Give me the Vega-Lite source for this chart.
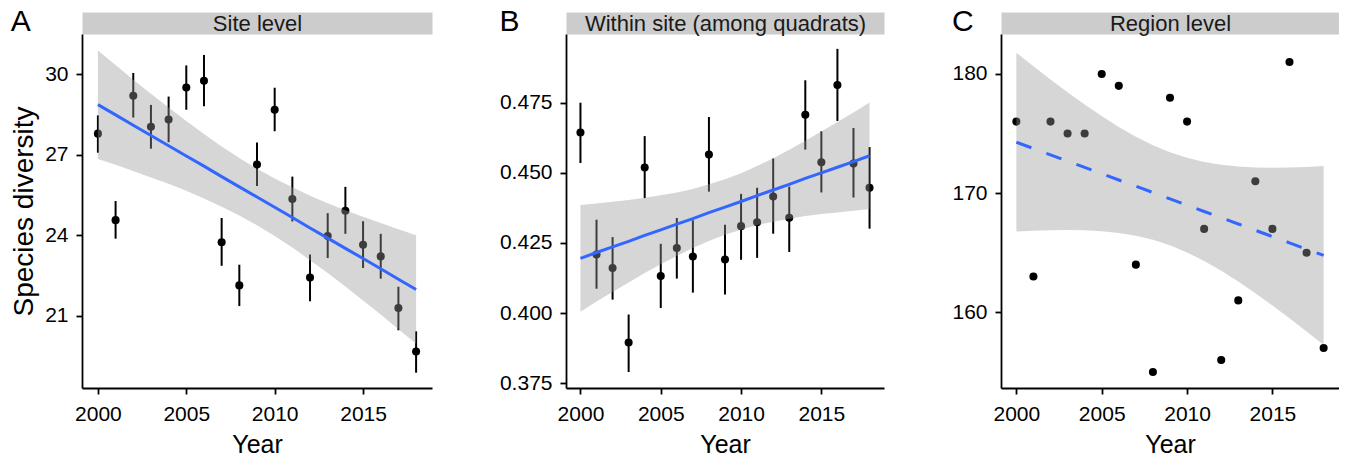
{
  "$schema": "https://vega.github.io/schema/vega-lite/v6.json",
  "padding": {"left": 10, "top": 7, "right": 0, "bottom": 0},
  "background": "white",
  "config": {
    "view": {"stroke": null},
    "font": "Liberation Sans",
    "axis": {
      "grid": false,
      "domainColor": "black",
      "domainWidth": 1.8,
      "tickColor": "black",
      "tickWidth": 1.8,
      "tickSize": 6,
      "labelFont": "Liberation Sans",
      "labelFontSize": 21,
      "labelColor": "black",
      "titleFont": "Liberation Sans",
      "titleFontSize": 25,
      "titleFontWeight": "normal",
      "titleColor": "black"
    },
    "axisX": {"labelPadding": 9, "titlePadding": 8, "labelFlush": false},
    "axisY": {"labelPadding": 8, "titlePadding": 7},
    "title": {"font": "Liberation Sans", "fontSize": 30, "fontWeight": "normal", "color": "black", "anchor": "start", "frame": "bounds", "baseline": "top", "offset": 0, "dy": 29}
  },
  "datasets": {
    "siteA": [
      {"year": 2000, "value": 27.78, "lo": 27.07, "hi": 28.46},
      {"year": 2001, "value": 24.56, "lo": 23.87, "hi": 25.27},
      {"year": 2002, "value": 29.19, "lo": 28.38, "hi": 30.04},
      {"year": 2003, "value": 28.04, "lo": 27.22, "hi": 28.85},
      {"year": 2004, "value": 28.31, "lo": 27.46, "hi": 29.16},
      {"year": 2005, "value": 29.50, "lo": 28.67, "hi": 30.32},
      {"year": 2006, "value": 29.75, "lo": 28.80, "hi": 30.71},
      {"year": 2007, "value": 23.74, "lo": 22.86, "hi": 24.64},
      {"year": 2008, "value": 22.13, "lo": 21.36, "hi": 22.90},
      {"year": 2009, "value": 26.63, "lo": 25.83, "hi": 27.45},
      {"year": 2010, "value": 28.67, "lo": 27.87, "hi": 29.49},
      {"year": 2011, "value": 25.35, "lo": 24.51, "hi": 26.18},
      {"year": 2012, "value": 22.42, "lo": 21.54, "hi": 23.28},
      {"year": 2013, "value": 23.97, "lo": 23.15, "hi": 24.82},
      {"year": 2014, "value": 24.91, "lo": 24.05, "hi": 25.80},
      {"year": 2015, "value": 23.64, "lo": 22.78, "hi": 24.52},
      {"year": 2016, "value": 23.21, "lo": 22.38, "hi": 24.05},
      {"year": 2017, "value": 21.29, "lo": 20.46, "hi": 22.08},
      {"year": 2018, "value": 19.67, "lo": 18.88, "hi": 20.42}
    ],
    "fitA": [
      {"year": 2000, "fit": 28.86, "lo": 26.84, "hi": 30.88},
      {"year": 2001, "fit": 28.48, "lo": 26.62, "hi": 30.34},
      {"year": 2002, "fit": 28.09, "lo": 26.39, "hi": 29.79},
      {"year": 2003, "fit": 27.71, "lo": 26.15, "hi": 29.27},
      {"year": 2004, "fit": 27.33, "lo": 25.91, "hi": 28.75},
      {"year": 2005, "fit": 26.95, "lo": 25.65, "hi": 28.25},
      {"year": 2006, "fit": 26.57, "lo": 25.37, "hi": 27.77},
      {"year": 2007, "fit": 26.18, "lo": 25.06, "hi": 27.30},
      {"year": 2008, "fit": 25.80, "lo": 24.73, "hi": 26.87},
      {"year": 2009, "fit": 25.42, "lo": 24.37, "hi": 26.47},
      {"year": 2010, "fit": 25.04, "lo": 23.97, "hi": 26.11},
      {"year": 2011, "fit": 24.66, "lo": 23.54, "hi": 25.78},
      {"year": 2012, "fit": 24.27, "lo": 23.07, "hi": 25.47},
      {"year": 2013, "fit": 23.89, "lo": 22.59, "hi": 25.19},
      {"year": 2014, "fit": 23.51, "lo": 22.09, "hi": 24.93},
      {"year": 2015, "fit": 23.13, "lo": 21.57, "hi": 24.69},
      {"year": 2016, "fit": 22.75, "lo": 21.05, "hi": 24.45},
      {"year": 2017, "fit": 22.36, "lo": 20.50, "hi": 24.22},
      {"year": 2018, "fit": 21.98, "lo": 19.96, "hi": 24.00}
    ],
    "siteB": [
      {"year": 2000, "value": 0.4644, "lo": 0.4535, "hi": 0.4750},
      {"year": 2001, "value": 0.4209, "lo": 0.4087, "hi": 0.4333},
      {"year": 2002, "value": 0.4161, "lo": 0.4048, "hi": 0.4271},
      {"year": 2003, "value": 0.3895, "lo": 0.3790, "hi": 0.3995},
      {"year": 2004, "value": 0.4519, "lo": 0.4410, "hi": 0.4631},
      {"year": 2005, "value": 0.4132, "lo": 0.4018, "hi": 0.4247},
      {"year": 2006, "value": 0.4232, "lo": 0.4123, "hi": 0.4339},
      {"year": 2007, "value": 0.4202, "lo": 0.4073, "hi": 0.4331},
      {"year": 2008, "value": 0.4565, "lo": 0.4433, "hi": 0.4699},
      {"year": 2009, "value": 0.4191, "lo": 0.4066, "hi": 0.4315},
      {"year": 2010, "value": 0.4310, "lo": 0.4190, "hi": 0.4425},
      {"year": 2011, "value": 0.4324, "lo": 0.4197, "hi": 0.4447},
      {"year": 2012, "value": 0.4416, "lo": 0.4283, "hi": 0.4551},
      {"year": 2013, "value": 0.4340, "lo": 0.4218, "hi": 0.4451},
      {"year": 2014, "value": 0.4707, "lo": 0.4583, "hi": 0.4830},
      {"year": 2015, "value": 0.4538, "lo": 0.4430, "hi": 0.4648},
      {"year": 2016, "value": 0.4813, "lo": 0.4685, "hi": 0.4942},
      {"year": 2017, "value": 0.4533, "lo": 0.4412, "hi": 0.4660},
      {"year": 2018, "value": 0.4447, "lo": 0.4301, "hi": 0.4592}
    ],
    "fitB": [
      {"year": 2000, "fit": 0.4195, "lo": 0.4005, "hi": 0.4385},
      {"year": 2001, "fit": 0.4216, "lo": 0.4041, "hi": 0.4391},
      {"year": 2002, "fit": 0.4236, "lo": 0.4075, "hi": 0.4397},
      {"year": 2003, "fit": 0.4256, "lo": 0.4109, "hi": 0.4403},
      {"year": 2004, "fit": 0.4277, "lo": 0.4143, "hi": 0.4411},
      {"year": 2005, "fit": 0.4297, "lo": 0.4174, "hi": 0.4420},
      {"year": 2006, "fit": 0.4317, "lo": 0.4204, "hi": 0.4430},
      {"year": 2007, "fit": 0.4337, "lo": 0.4232, "hi": 0.4442},
      {"year": 2008, "fit": 0.4358, "lo": 0.4257, "hi": 0.4459},
      {"year": 2009, "fit": 0.4378, "lo": 0.4279, "hi": 0.4477},
      {"year": 2010, "fit": 0.4398, "lo": 0.4297, "hi": 0.4499},
      {"year": 2011, "fit": 0.4419, "lo": 0.4314, "hi": 0.4524},
      {"year": 2012, "fit": 0.4439, "lo": 0.4326, "hi": 0.4552},
      {"year": 2013, "fit": 0.4459, "lo": 0.4336, "hi": 0.4582},
      {"year": 2014, "fit": 0.4480, "lo": 0.4346, "hi": 0.4614},
      {"year": 2015, "fit": 0.4500, "lo": 0.4353, "hi": 0.4647},
      {"year": 2016, "fit": 0.4520, "lo": 0.4359, "hi": 0.4681},
      {"year": 2017, "fit": 0.4540, "lo": 0.4365, "hi": 0.4715},
      {"year": 2018, "fit": 0.4561, "lo": 0.4371, "hi": 0.4751}
    ],
    "regionC": [
      {"year": 2000, "value": 176},
      {"year": 2001, "value": 163},
      {"year": 2002, "value": 176},
      {"year": 2003, "value": 175},
      {"year": 2004, "value": 175},
      {"year": 2005, "value": 180},
      {"year": 2006, "value": 179},
      {"year": 2007, "value": 164},
      {"year": 2008, "value": 155},
      {"year": 2009, "value": 178},
      {"year": 2010, "value": 176},
      {"year": 2011, "value": 167},
      {"year": 2012, "value": 156},
      {"year": 2013, "value": 161},
      {"year": 2014, "value": 171},
      {"year": 2015, "value": 167},
      {"year": 2016, "value": 181},
      {"year": 2017, "value": 165},
      {"year": 2018, "value": 157}
    ],
    "fitC": [
      {"year": 2000, "fit": 174.27, "lo": 166.77, "hi": 181.77},
      {"year": 2001, "fit": 173.74, "lo": 166.84, "hi": 180.64},
      {"year": 2002, "fit": 173.21, "lo": 166.88, "hi": 179.54},
      {"year": 2003, "fit": 172.69, "lo": 166.91, "hi": 178.47},
      {"year": 2004, "fit": 172.16, "lo": 166.88, "hi": 177.44},
      {"year": 2005, "fit": 171.63, "lo": 166.80, "hi": 176.46},
      {"year": 2006, "fit": 171.10, "lo": 166.65, "hi": 175.55},
      {"year": 2007, "fit": 170.58, "lo": 166.43, "hi": 174.73},
      {"year": 2008, "fit": 170.05, "lo": 166.08, "hi": 174.02},
      {"year": 2009, "fit": 169.52, "lo": 165.62, "hi": 173.42},
      {"year": 2010, "fit": 168.99, "lo": 165.02, "hi": 172.96},
      {"year": 2011, "fit": 168.46, "lo": 164.31, "hi": 172.61},
      {"year": 2012, "fit": 167.94, "lo": 163.49, "hi": 172.39},
      {"year": 2013, "fit": 167.41, "lo": 162.58, "hi": 172.24},
      {"year": 2014, "fit": 166.88, "lo": 161.60, "hi": 172.16},
      {"year": 2015, "fit": 166.35, "lo": 160.57, "hi": 172.13},
      {"year": 2016, "fit": 165.83, "lo": 159.50, "hi": 172.16},
      {"year": 2017, "fit": 165.30, "lo": 158.40, "hi": 172.20},
      {"year": 2018, "fit": 164.77, "lo": 157.27, "hi": 172.27}
    ]
  },
  "spacing": 67,
  "hconcat": [
    {
      "width": 350,
      "height": 354,
      "title": {"text": "A"},
      "resolve": {"axis": {"x": "independent", "y": "independent"}},
      "layer": [
        {
          "data": {"name": "siteA"},
          "mark": {"type": "rule", "strokeWidth": 2, "color": "black"},
          "encoding": {
            "x": {"field": "year", "type": "quantitative", "scale": {"domain": [1999.1, 2018.9], "nice": false, "zero": false},
                  "axis": {"orient": "top", "offset": 11, "domainWidth": 22, "domainColor": "#CCCCCC", "domainCap": "butt", "labels": false, "ticks": false, "title": "Site level", "titleFontSize": 22, "titleY": 0, "titleBaseline": "middle", "titleColor": "#1A1A1A"}},
            "y": {"field": "lo", "type": "quantitative", "scale": {"domain": [18.31, 31.49], "nice": false, "zero": false},
                  "axis": {"title": "Species diversity", "titleFontSize": 28, "titlePadding": 6, "values": [21, 24, 27, 30]}},
            "y2": {"field": "hi"}
          }
        },
        {
          "data": {"name": "siteA"},
          "mark": {"type": "point", "filled": true, "size": 65, "color": "black", "opacity": 1},
          "encoding": {
            "x": {"field": "year", "type": "quantitative", "scale": {"domain": [1999.1, 2018.9], "nice": false, "zero": false}, "axis": null},
            "y": {"field": "value", "type": "quantitative", "scale": {"domain": [18.31, 31.49], "nice": false, "zero": false}, "axis": null}
          }
        },
        {
          "data": {"name": "fitA"},
          "mark": {"type": "area", "color": "#999999", "opacity": 0.4},
          "encoding": {
            "x": {"field": "year", "type": "quantitative", "scale": {"domain": [1999.1, 2018.9], "nice": false, "zero": false},
                  "axis": {"orient": "bottom", "title": "Year", "values": [2000, 2005, 2010, 2015], "format": "d"}},
            "y": {"field": "lo", "type": "quantitative", "scale": {"domain": [18.31, 31.49], "nice": false, "zero": false}, "axis": null},
            "y2": {"field": "hi"}
          }
        },
        {
          "data": {"name": "fitA"},
          "mark": {"type": "line", "color": "#3366FF", "strokeWidth": 3},
          "encoding": {
            "x": {"field": "year", "type": "quantitative", "scale": {"domain": [1999.1, 2018.9], "nice": false, "zero": false}, "axis": null},
            "y": {"field": "fit", "type": "quantitative", "scale": {"domain": [18.31, 31.49], "nice": false, "zero": false}, "axis": null}
          }
        }
      ]
    },
    {
      "width": 318,
      "height": 354,
      "title": {"text": "B"},
      "resolve": {"axis": {"x": "independent", "y": "independent"}},
      "layer": [
        {
          "data": {"name": "siteB"},
          "mark": {"type": "rule", "strokeWidth": 2, "color": "black"},
          "encoding": {
            "x": {"field": "year", "type": "quantitative", "scale": {"domain": [1999.1, 2018.9], "nice": false, "zero": false},
                  "axis": {"orient": "top", "offset": 11, "domainWidth": 22, "domainColor": "#CCCCCC", "domainCap": "butt", "labels": false, "ticks": false, "title": "Within site (among quadrats)", "titleFontSize": 22, "titleY": 0, "titleBaseline": "middle", "titleColor": "#1A1A1A"}},
            "y": {"field": "lo", "type": "quantitative", "scale": {"domain": [0.3733, 0.4995], "nice": false, "zero": false},
                  "axis": {"title": null, "values": [0.375, 0.4, 0.425, 0.45, 0.475], "format": ".3f"}},
            "y2": {"field": "hi"}
          }
        },
        {
          "data": {"name": "siteB"},
          "mark": {"type": "point", "filled": true, "size": 65, "color": "black", "opacity": 1},
          "encoding": {
            "x": {"field": "year", "type": "quantitative", "scale": {"domain": [1999.1, 2018.9], "nice": false, "zero": false}, "axis": null},
            "y": {"field": "value", "type": "quantitative", "scale": {"domain": [0.3733, 0.4995], "nice": false, "zero": false}, "axis": null}
          }
        },
        {
          "data": {"name": "fitB"},
          "mark": {"type": "area", "color": "#999999", "opacity": 0.4},
          "encoding": {
            "x": {"field": "year", "type": "quantitative", "scale": {"domain": [1999.1, 2018.9], "nice": false, "zero": false},
                  "axis": {"orient": "bottom", "title": "Year", "values": [2000, 2005, 2010, 2015], "format": "d"}},
            "y": {"field": "lo", "type": "quantitative", "scale": {"domain": [0.3733, 0.4995], "nice": false, "zero": false}, "axis": null},
            "y2": {"field": "hi"}
          }
        },
        {
          "data": {"name": "fitB"},
          "mark": {"type": "line", "color": "#3366FF", "strokeWidth": 3},
          "encoding": {
            "x": {"field": "year", "type": "quantitative", "scale": {"domain": [1999.1, 2018.9], "nice": false, "zero": false}, "axis": null},
            "y": {"field": "fit", "type": "quantitative", "scale": {"domain": [0.3733, 0.4995], "nice": false, "zero": false}, "axis": null}
          }
        }
      ]
    },
    {
      "width": 338,
      "height": 354,
      "title": {"text": "C"},
      "resolve": {"axis": {"x": "independent", "y": "independent"}},
      "layer": [
        {
          "data": {"name": "regionC"},
          "mark": {"type": "point", "filled": true, "size": 65, "color": "black", "opacity": 1},
          "encoding": {
            "x": {"field": "year", "type": "quantitative", "scale": {"domain": [1999.1, 2018.9], "nice": false, "zero": false},
                  "axis": {"orient": "top", "offset": 11, "domainWidth": 22, "domainColor": "#CCCCCC", "domainCap": "butt", "labels": false, "ticks": false, "title": "Region level", "titleFontSize": 22, "titleY": 0, "titleBaseline": "middle", "titleColor": "#1A1A1A"}},
            "y": {"field": "value", "type": "quantitative", "scale": {"domain": [153.65, 183.35], "nice": false, "zero": false},
                  "axis": {"title": null, "values": [160, 170, 180]}}
          }
        },
        {
          "data": {"name": "fitC"},
          "mark": {"type": "area", "color": "#999999", "opacity": 0.4},
          "encoding": {
            "x": {"field": "year", "type": "quantitative", "scale": {"domain": [1999.1, 2018.9], "nice": false, "zero": false},
                  "axis": {"orient": "bottom", "title": "Year", "values": [2000, 2005, 2010, 2015], "format": "d"}},
            "y": {"field": "lo", "type": "quantitative", "scale": {"domain": [153.65, 183.35], "nice": false, "zero": false}, "axis": null},
            "y2": {"field": "hi"}
          }
        },
        {
          "data": {"name": "fitC"},
          "mark": {"type": "line", "color": "#3366FF", "strokeWidth": 3, "strokeDash": [16, 16]},
          "encoding": {
            "x": {"field": "year", "type": "quantitative", "scale": {"domain": [1999.1, 2018.9], "nice": false, "zero": false}, "axis": null},
            "y": {"field": "fit", "type": "quantitative", "scale": {"domain": [153.65, 183.35], "nice": false, "zero": false}, "axis": null}
          }
        }
      ]
    }
  ]
}
